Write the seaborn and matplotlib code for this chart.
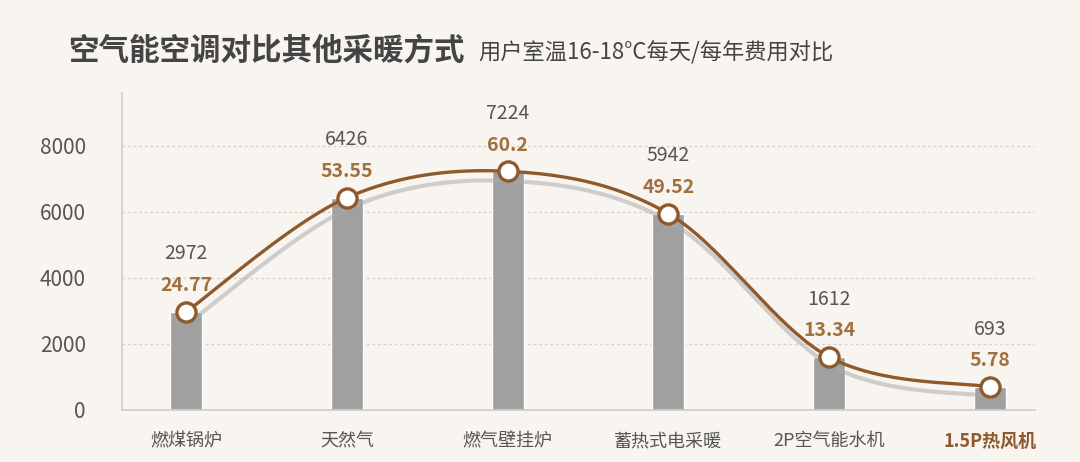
import numpy as np
import pandas as pd
import matplotlib
matplotlib.use("Agg")
import matplotlib.pyplot as plt
import matplotlib.patheffects as pe
import seaborn as sns

# data
categories = ["燃煤锅炉", "天然气", "燃气壁挂炉", "蓄热式电采暖", "2P空气能水机", "1.5P热风机"]
yearly_cost = [2972, 6426, 7224, 5942, 1612, 693]
daily_cost = [24.77, 53.55, 60.2, 49.52, 13.34, 5.78]
y_ticks = [0, 2000, 4000, 6000, 8000]

bg = "#f8f4f0"
brown = "#8e5a2c"
gray_bar = "#a0a0a0"
text_gray = "#555555"

sns.set_theme(style="white")
plt.rcParams["font.family"] = ["Noto Sans CJK SC", "DejaVu Sans"]

fig = plt.figure(figsize=(10.8, 4.62), dpi=100, facecolor=bg)
ax = fig.add_axes([0.113, 0.113, 0.845, 0.686])
ax.set_facecolor(bg)

df = pd.DataFrame({"cat": categories, "year": yearly_cost, "day": daily_cost})
sns.barplot(data=df, x="cat", y="year", color=gray_bar, width=0.2,
            saturation=1, ax=ax, zorder=2)

ax.set_ylim(0, 9600)
ax.set_xlim(-0.4, 5.28)
ax.set_yticks(y_ticks)
ax.set_yticklabels([str(v) for v in y_ticks], fontsize=15, color=text_gray)
ax.set_xlabel("")
ax.set_ylabel("")
ax.tick_params(axis="both", length=0)
ax.tick_params(axis="y", pad=26)
ax.tick_params(axis="x", pad=16)
for v in y_ticks[1:]:
    ax.axhline(v, color="#d6d2ce", lw=1, ls=(0, (2, 2)), zorder=1)
for s in ["top", "right"]:
    ax.spines[s].set_visible(False)
for s in ["left", "bottom"]:
    ax.spines[s].set_color("#cfcac6")
    ax.spines[s].set_linewidth(1.2)

for i, lab in enumerate(ax.get_xticklabels()):
    lab.set_fontsize(13)
    lab.set_color(text_gray)
    if i == len(categories) - 1:
        lab.set_color(brown)
        lab.set_fontweight("bold")

# daily cost on a twin axis scaled so the curve sits on the bar tops
ax2 = ax.twinx()
ax2.set_ylim(0, 9600 / 120)
ax2.axis("off")

# smooth curve through the daily points (Catmull-Rom)
xs = np.arange(len(daily_cost), dtype=float)
ys = np.array(daily_cost, dtype=float)
px = np.concatenate([[xs[0]], xs, [xs[-1]]])
py = np.concatenate([[ys[0]], ys, [ys[-1]]])
cx, cy = [], []
for k in range(1, len(px) - 2):
    t = np.linspace(0, 1, 40)
    p0, p1, p2, p3 = (np.array([px[j], py[j]]) for j in range(k - 1, k + 3))
    t2, t3 = t * t, t * t * t
    pts = 0.5 * ((2 * p1)[:, None] + (-p0 + p2)[:, None] * t
                 + (2 * p0 - 5 * p1 + 4 * p2 - p3)[:, None] * t2
                 + (-p0 + 3 * p1 - 3 * p2 + p3)[:, None] * t3)
    cx.extend(pts[0])
    cy.extend(pts[1])

ax2.plot(cx, cy, color=brown, lw=2.4, zorder=3,
         path_effects=[pe.SimpleLineShadow(offset=(3, -7), shadow_color="#a8a8a8",
                                           alpha=0.5, linewidth=3), pe.Normal()])
sns.scatterplot(x=xs, y=ys, ax=ax2, s=190, color="white", edgecolor=brown,
                linewidth=2.4, zorder=4, legend=False)

for i, (yv, dv) in enumerate(zip(yearly_cost, daily_cost)):
    ax2.annotate(f"{dv:g}", (i, dv), xytext=(0, 12), textcoords="offset points",
                 ha="center", va="bottom", fontsize=14, color="#a0703e",
                 fontweight="bold")
    ax2.annotate(f"{yv}", (i, dv), xytext=(0, 34), textcoords="offset points",
                 ha="center", va="bottom", fontsize=14, color=text_gray)

fig.text(68 / 1080, 1 - 60 / 462, "空气能空调对比其他采暖方式", fontsize=22,
         fontweight="bold", color="#444444", va="baseline")
fig.text(478 / 1080, 1 - 60 / 462, "用户室温16-18°C每天/每年费用对比", fontsize=16,
         color="#444444", va="baseline")

fig.savefig("out.png", dpi=100, facecolor=bg)
